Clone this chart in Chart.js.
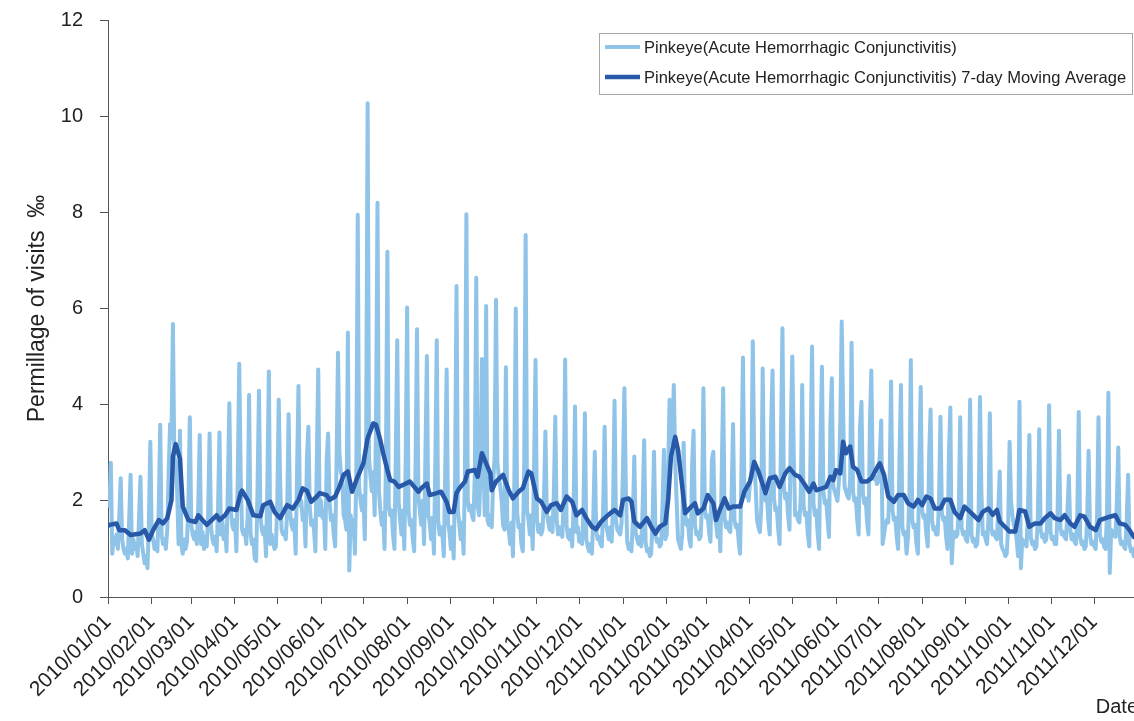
<!DOCTYPE html>
<html><head><meta charset="utf-8">
<script src="https://cdn.jsdelivr.net/npm/chart.js@4.4.1/dist/chart.umd.min.js"></script>
<style>
html,body{margin:0;padding:0;background:#fff;overflow:hidden;width:1134px;height:721px;}
#wrap{position:absolute;left:0;top:0;width:1145px;height:721px;}
</style></head><body>
<div id="wrap"><canvas id="c" width="1145" height="721"></canvas></div>
<script>
// ---- data ----
const seriesNames = [
  'Pinkeye(Acute Hemorrhagic Conjunctivitis)',
  'Pinkeye(Acute Hemorrhagic Conjunctivitis) 7-day Moving Average'
];
const startDate = [2010, 1, 1];
const monthTickLabels = [
  '2010/01/01','2010/02/01','2010/03/01','2010/04/01','2010/05/01','2010/06/01',
  '2010/07/01','2010/08/01','2010/09/01','2010/10/01','2010/11/01','2010/12/01',
  '2011/01/01','2011/02/01','2011/03/01','2011/04/01','2011/05/01','2011/06/01',
  '2011/07/01','2011/08/01','2011/09/01','2011/10/01','2011/11/01','2011/12/01'
];
const axisEndLabel = '2012/01/01';
const yTicks = {min: 0, max: 12, step: 2};

// daily permillage, 2010-01-01 .. 2011-12-31 (rows = weeks Mon..Sun, first row Fri..Sun)
const dailyWeeks = [
 [2.2,1.9,2.79],
 [0.9,1.2,1.1,1.3,1.0,1.7,2.47],
 [1.2,1.0,0.9,1.0,0.8,1.6,2.54],
 [0.9,1.2,1.0,1.1,0.85,1.65,2.5],
 [1.1,0.9,0.7,0.85,0.6,1.6,3.23],
 [1.3,1.2,1.0,1.15,0.95,1.9,3.58],
 [1.3,1.1,1.2,1.0,1.4,2.6,3.6],
 [3.3,5.68,2.9,2.8,2.2,1.1,3.46],
 [1.1,0.9,1.2,1.0,1.15,2.0,3.74],
 [1.5,1.3,1.2,1.35,1.1,1.95,3.37],
 [1.1,1.35,1.0,1.25,1.05,1.75,3.4],
 [1.45,1.2,1.1,1.25,0.95,1.85,3.42],
 [1.3,1.6,1.2,1.45,0.95,2.35,4.03],
 [1.85,1.5,1.4,1.6,0.95,2.55,4.85],
 [2.6,1.4,1.3,1.4,1.1,1.7,4.2],
 [1.35,1.1,1.2,0.8,0.75,2.3,4.29],
 [1.7,1.4,1.3,1.45,0.85,2.45,4.69],
 [1.1,1.3,1.15,1.0,1.05,2.0,4.1],
 [2.4,1.4,1.3,1.35,1.2,1.8,3.8],
 [1.8,1.5,1.4,1.6,0.9,2.6,4.39],
 [1.9,2.0,1.6,1.75,1.05,2.9,3.54],
 [1.85,1.5,1.6,1.4,0.95,2.85,4.73],
 [1.7,2.0,1.65,1.8,1.0,2.85,3.4],
 [2.0,1.6,1.7,1.3,1.05,2.8,5.08],
 [3.0,2.6,2.5,1.7,1.6,1.4,5.5],
 [0.55,1.7,1.3,1.6,0.9,2.6,7.95],
 [2.3,2.0,1.8,2.1,1.2,3.35,10.27],
 [2.9,2.5,2.2,2.6,1.7,3.7,8.2],
 [2.2,1.8,1.5,1.75,1.0,2.8,7.18],
 [1.9,1.7,1.8,1.3,1.0,3.0,5.34],
 [2.0,1.6,1.3,1.8,1.0,2.9,6.02],
 [1.8,1.5,1.6,1.2,0.95,2.8,5.57],
 [2.1,1.8,1.5,2.0,1.1,3.0,5.01],
 [1.7,1.55,1.2,1.65,0.9,2.8,5.34],
 [1.6,1.3,1.45,1.3,0.85,2.6,4.73],
 [1.55,1.35,1.0,1.45,0.8,2.5,6.47],
 [1.8,1.5,1.2,1.55,0.9,2.6,7.96],
 [2.0,1.8,1.9,1.7,1.6,2.6,6.64],
 [1.9,1.7,2.5,4.95,3.0,1.7,6.05],
 [1.6,1.5,1.7,1.45,2.4,2.9,6.18],
 [2.8,2.5,2.3,2.0,1.5,1.4,4.78],
 [1.5,1.4,1.1,1.55,0.85,2.4,6.0],
 [1.75,1.45,1.5,1.1,0.95,2.8,7.53],
 [1.8,1.6,1.3,1.7,1.0,2.75,4.93],
 [1.6,1.35,1.5,1.3,1.4,2.05,3.44],
 [1.75,1.55,1.4,1.65,1.35,2.15,3.75],
 [1.6,1.3,1.45,1.35,1.25,2.1,4.94],
 [1.5,1.25,1.2,1.4,1.05,1.9,3.96],
 [1.35,1.45,1.15,1.3,1.1,1.85,3.82],
 [1.2,1.05,0.95,1.1,0.9,1.7,3.02],
 [1.4,1.2,1.25,1.1,1.05,1.9,3.54],
 [1.5,1.35,1.2,1.45,1.15,1.95,4.08],
 [1.6,1.4,1.35,1.3,1.55,2.7,4.34],
 [2.3,1.15,1.0,1.1,0.95,1.6,2.92],
 [1.35,1.2,1.1,1.25,1.05,1.95,3.26],
 [1.15,0.95,1.0,0.85,0.9,1.65,3.02],
 [1.3,1.15,1.2,1.05,1.1,1.9,3.06],
 [1.2,1.3,2.6,4.1,3.5,3.2,4.41],
 [2.8,2.0,1.2,1.1,1.0,1.3,3.21],
 [1.75,1.5,1.6,1.2,1.05,2.75,3.46],
 [1.5,1.3,1.35,1.2,1.25,1.9,4.34],
 [1.85,1.65,1.7,1.35,1.15,2.85,3.02],
 [1.7,1.5,1.25,1.6,0.95,2.65,4.34],
 [1.65,1.45,1.55,1.4,1.35,2.15,3.6],
 [1.6,1.45,1.5,1.15,0.9,2.75,4.98],
 [2.3,2.1,2.2,2.0,2.4,2.55,5.32],
 [2.8,2.3,1.6,1.45,1.35,1.85,4.75],
 [2.2,2.0,2.1,1.6,1.3,3.6,4.71],
 [2.05,1.8,1.85,1.4,1.1,3.35,5.59],
 [2.3,2.05,2.15,1.7,1.4,3.6,5.0],
 [3.0,1.7,1.75,1.6,1.55,2.1,4.41],
 [1.9,1.7,1.75,1.3,1.05,3.2,5.21],
 [1.95,1.7,1.8,1.3,1.0,3.3,4.79],
 [2.2,1.95,2.0,1.6,1.25,3.6,4.55],
 [2.3,2.2,2.1,2.0,2.4,3.6,5.73],
 [3.9,2.3,2.2,2.1,2.05,2.45,5.29],
 [2.2,2.0,2.05,1.6,1.3,3.55,4.06],
 [2.15,1.95,2.05,1.55,1.3,3.6,4.71],
 [2.6,2.45,2.5,2.35,2.4,2.95,3.67],
 [1.1,1.3,1.5,1.6,1.55,2.5,4.48],
 [1.8,1.6,1.65,1.25,1.0,2.95,4.41],
 [1.45,1.3,1.35,0.9,1.25,2.15,4.93],
 [1.6,1.45,1.5,1.1,0.9,2.75,4.37],
 [1.8,1.65,1.7,1.3,1.05,2.95,3.9],
 [1.6,1.4,1.45,1.3,1.3,2.05,3.75],
 [1.75,1.6,1.65,1.25,1.0,2.95,3.94],
 [0.7,1.3,1.35,1.25,1.3,1.85,3.74],
 [1.45,1.3,1.35,1.2,1.15,1.85,4.1],
 [1.3,1.15,1.2,1.05,1.1,1.6,4.16],
 [2.2,1.3,1.35,1.2,1.1,1.6,3.82],
 [1.45,1.3,1.35,1.25,1.2,1.85,2.61],
 [1.1,1.0,0.95,0.85,0.9,1.5,3.23],
 [2.0,1.7,1.5,1.4,1.2,0.85,4.06],
 [0.6,1.2,1.15,1.1,1.05,1.75,3.37],
 [1.25,1.1,1.15,1.0,1.05,1.65,3.49],
 [1.4,1.25,1.3,1.15,1.2,1.75,3.99],
 [1.35,1.2,1.25,1.1,1.1,1.75,3.46],
 [1.45,1.3,1.35,1.25,1.2,1.8,2.52],
 [1.4,1.2,1.3,1.15,1.1,1.75,3.85],
 [1.25,1.1,1.15,1.0,1.05,1.65,3.04],
 [1.3,1.1,1.15,1.05,1.0,1.7,3.74],
 [1.3,1.15,1.2,1.05,1.0,1.7,4.25],
 [0.5,1.4,1.35,1.3,1.25,1.95,3.11],
 [1.25,1.1,1.15,1.05,1.0,1.6,2.54],
 [1.1,0.95,1.0,0.85,0.9,1.3]
];

// 7-day moving average: [days since 2010-01-01, value]
const movingAverage = [
 [0,1.48],[1,1.50],[6,1.53],[8,1.39],[12,1.39],[16,1.29],[23,1.32],[26,1.39],[29,1.19],[32,1.39],
 [36,1.60],[39,1.53],[42,1.64],[45,2.02],[46,2.92],[48,3.18],[51,2.88],[53,1.88],[57,1.60],[62,1.56],
 [64,1.70],[70,1.50],[75,1.64],[77,1.70],[79,1.60],[83,1.70],[86,1.84],[91,1.81],[94,2.16],[95,2.21],
 [99,2.02],[103,1.70],[108,1.68],[110,1.91],[115,1.98],[118,1.77],[122,1.64],[127,1.91],[131,1.84],[135,2.02],
 [138,2.26],[141,2.21],[144,1.98],[148,2.09],[150,2.16],[155,2.12],[157,2.02],[161,2.09],[164,2.29],[167,2.54],
 [170,2.61],[173,2.19],[176,2.43],[180,2.71],[181,2.78],[184,3.30],[188,3.61],[190,3.58],[193,3.26],[195,2.99],
 [198,2.64],[200,2.43],[203,2.40],[206,2.29],[209,2.33],[214,2.40],[220,2.19],[222,2.26],[226,2.36],[228,2.12],
 [233,2.16],[236,2.19],[240,1.98],[242,1.77],[245,1.77],[247,2.16],[249,2.26],[253,2.40],[255,2.61],[260,2.64],
 [262,2.50],[265,2.99],[268,2.78],[271,2.57],[272,2.22],[275,2.40],[280,2.54],[284,2.22],[287,2.05],[291,2.19],
 [294,2.26],[298,2.61],[300,2.57],[304,2.05],[307,1.98],[311,1.77],[314,1.91],[318,1.95],[321,1.81],[325,2.09],
 [329,1.98],[332,1.70],[336,1.81],[339,1.64],[343,1.46],[346,1.41],[349,1.55],[352,1.64],[356,1.74],[359,1.81],
 [363,1.70],[365,2.02],[369,2.05],[371,1.98],[373,1.57],[377,1.46],[382,1.64],[385,1.46],[388,1.32],[391,1.46],
 [395,1.53],[397,2.02],[399,2.92],[402,3.33],[404,3.06],[407,2.29],[409,1.74],[412,1.84],[416,1.95],[418,1.74],
 [422,1.84],[425,2.12],[429,1.95],[431,1.60],[434,1.84],[437,2.05],[440,1.84],[443,1.88],[448,1.88],[451,2.19],
 [455,2.40],[458,2.81],[461,2.61],[466,2.16],[469,2.47],[473,2.50],[476,2.29],[480,2.57],[483,2.68],[487,2.54],
 [490,2.50],[494,2.33],[497,2.19],[500,2.36],[502,2.22],[506,2.26],[509,2.29],[512,2.50],[514,2.43],[516,2.64],
 [519,2.57],[521,3.23],[523,2.99],[526,3.13],[528,2.71],[531,2.64],[534,2.40],[538,2.40],[541,2.47],[546,2.74],
 [547,2.78],[550,2.54],[553,2.09],[557,1.98],[560,2.12],[564,2.12],[567,1.95],[571,1.88],[574,2.02],[577,1.91],
 [580,2.09],[583,2.05],[586,1.84],[590,1.84],[593,2.02],[597,2.02],[600,1.77],[604,1.64],[607,1.88],[611,1.77],
 [617,1.60],[620,1.77],[624,1.84],[627,1.71],[630,1.81],[632,1.57],[636,1.45],[639,1.36],[643,1.36],[646,1.81],
 [650,1.78],[653,1.46],[657,1.53],[661,1.53],[664,1.64],[668,1.74],[671,1.64],[675,1.60],[678,1.70],[682,1.53],
 [685,1.46],[689,1.70],[692,1.67],[696,1.46],[700,1.39],[703,1.60],[707,1.64],[710,1.67],[714,1.70],[717,1.53],
 [721,1.50],[724,1.39],[727,1.25],[729,1.22]
];

// ---- helpers ----
const FONT = "'Liberation Sans', Arial, Helvetica, sans-serif";
const DAY = 86400000;
const t0 = Date.UTC(startDate[0], startDate[1] - 1, startDate[2]);
function dayOffset(label) {
  const p = label.split('/').map(Number);
  return Math.round((Date.UTC(p[0], p[1] - 1, p[2]) - t0) / DAY);
}
const monthTickDays = monthTickLabels.map(dayOffset);
const axisEndDay = dayOffset(axisEndLabel);
const dailyValues = dailyWeeks.flat();

const legendBox = {
  id: 'legendBox',
  afterDraw(chart) {
    const {ctx, chartArea} = chart;
    const ds = chart.data.datasets;
    ctx.save();
    ctx.font = '16.5px ' + FONT;
    const textW = Math.max(...ds.map(d => ctx.measureText(d.label).width));
    const pad = 6, sample = 35, gap = 4;
    const w = pad + sample + gap + textW + pad;
    const h = 61;
    const right = chartArea.right - 6;
    const top = chartArea.top + 13;
    const left = Math.round(right - w);
    ctx.strokeStyle = '#a6a6a6';
    ctx.lineWidth = 1;
    ctx.strokeRect(left + 0.5, top + 0.5, Math.round(w), h);
    ds.forEach((d, i) => {
      const y = top + 14 + i * 30;
      ctx.strokeStyle = d.borderColor;
      ctx.lineWidth = d.borderWidth;
      ctx.beginPath();
      ctx.moveTo(left + pad, y);
      ctx.lineTo(left + pad + sample, y);
      ctx.stroke();
      ctx.fillStyle = '#222';
      ctx.textBaseline = 'middle';
      ctx.textAlign = 'left';
      ctx.fillText(d.label, left + pad + sample + gap, y + 1);
    });
    ctx.restore();
  }
};

new Chart(document.getElementById('c'), {
  type: 'line',
  data: {
    datasets: [
      {
        label: seriesNames[0],
        data: dailyValues.map((v, i) => ({x: i, y: v})),
        borderColor: '#8FC4E8',
        borderWidth: 4,
        pointRadius: 0,
        tension: 0,
        borderJoinStyle: 'round',
        borderCapStyle: 'round',
        order: 2
      },
      {
        label: seriesNames[1],
        data: movingAverage.map(p => ({x: p[0], y: p[1]})),
        borderColor: '#2858A8',
        borderWidth: 4.5,
        pointRadius: 0,
        tension: 0,
        borderJoinStyle: 'round',
        borderCapStyle: 'round',
        order: 1
      }
    ]
  },
  options: {
    responsive: false,
    animation: false,
    events: [],
    layout: {padding: {left: 0, right: 7, top: 20, bottom: 0}},
    plugins: {legend: {display: false}, tooltip: {enabled: false}},
    scales: {
      x: {
        type: 'linear',
        min: 0,
        max: axisEndDay,
        afterBuildTicks: s => { s.ticks = monthTickDays.map(v => ({value: v})); },
        afterFit: s => { s.height = 124; },
        ticks: {
          autoSkip: false, maxRotation: 45, minRotation: 45, padding: 6,
          color: '#222', font: {family: FONT, size: 21},
          callback: (v, i) => monthTickLabels[i]
        },
        grid: {drawOnChartArea: false, drawTicks: true, tickLength: 7, color: '#555'},
        border: {display: true, color: '#555', width: 1},
        title: {
          display: true, text: 'Date', align: 'end', color: '#222',
          font: {family: FONT, size: 20}, padding: {top: 0, bottom: 2}
        }
      },
      y: {
        min: yTicks.min, max: yTicks.max,
        afterFit: s => { s.width = 108; s.paddingTop = 0; s.paddingBottom = 0; },
        ticks: {stepSize: yTicks.step, padding: 17, color: '#222', font: {family: FONT, size: 20}},
        grid: {drawOnChartArea: false, drawTicks: true, tickLength: 8, color: '#555'},
        border: {display: true, color: '#555', width: 1},
        title: {
          display: true, text: 'Permillage of visits  \u2030', color: '#222',
          font: {family: FONT, size: 23}, padding: {top: 24, bottom: 0}
        }
      }
    }
  },
  plugins: [legendBox]
});
</script>
</body></html>
